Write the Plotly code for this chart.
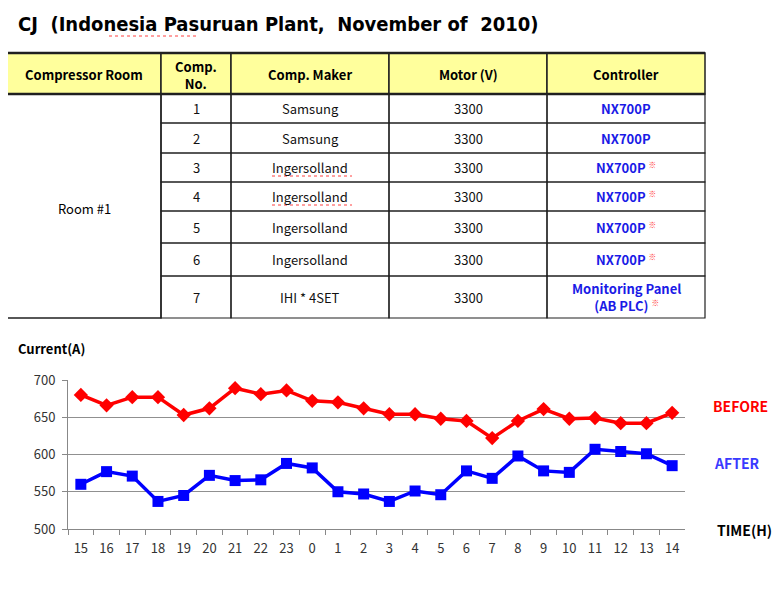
import plotly.graph_objects as go

W, H = 784, 592

# chart data
hours = ["15", "16", "17", "18", "19", "20", "21", "22", "23", "0", "1", "2",
         "3", "4", "5", "6", "7", "8", "9", "10", "11", "12", "13", "14"]
before = [680, 666, 677, 677, 653, 662, 689, 681, 686, 672, 670, 662,
          654, 654, 648, 645, 622, 645, 661, 648, 649, 642, 642, 656]
after = [560, 577, 571, 537, 545, 572, 565, 566, 588, 582, 550, 547,
         537, 551, 546, 578, 568, 598, 578, 576, 607, 604, 601, 585]
y_ticks = [500, 550, 600, 650, 700]

# table data
table_header = ["Compressor Room", "Comp.<br>No.", "Comp. Maker", "Motor (V)", "Controller"]
room_name = "Room #1"
comp_no = ["1", "2", "3", "4", "5", "6", "7"]
comp_maker = ["Samsung", "Samsung", "Ingersolland", "Ingersolland",
              "Ingersolland", "Ingersolland", "IHI * 4SET"]
motor_v = ["3300", "3300", "3300", "3300", "3300", "3300", "3300"]
controller = ["NX700P", "NX700P", "NX700P", "NX700P", "NX700P", "NX700P",
              "Monitoring Panel<br>(AB PLC)"]
controller_note = [False, False, True, True, True, True, True]

title_text = "CJ  (Indonesia Pasuruan Plant,  November of  2010)"

# layout in pixels (page coordinates)
col_edges = [7, 161, 231, 389, 547, 705]
row_edges = [53, 94, 123, 153, 182, 211, 243, 276, 318]
plot_l, plot_r, plot_t, plot_b = 68, 685, 380, 529
OFF = 8  # page body margin

FONT = "Noto Sans CJK KR, Malgun Gothic, Noto Sans, sans-serif"


def px(x):
    return (x - OFF) / W


def py(y):
    return 1 - (y - OFF) / H


def label(x, y, text, size=13, color="#000000", family=FONT, xanchor="center"):
    return dict(xref="paper", yref="paper", x=px(x), y=py(y), text=text,
                showarrow=False, xanchor=xanchor, yanchor="middle",
                font=dict(family=family, size=size, color=color))


def squiggle(x0, x1, y):
    # spell-check style red underline
    return dict(type="line", xref="paper", yref="paper",
                x0=px(x0), x1=px(x1), y0=py(y), y1=py(y),
                line=dict(color="#ff4040", width=1, dash="dot"))


fig = go.Figure()

fig.add_trace(go.Scatter(
    x=hours, y=before, mode="lines+markers", name="BEFORE",
    line=dict(color="#ff0000", width=3.5),
    marker=dict(symbol="diamond", size=11, color="#ff0000"),
))
fig.add_trace(go.Scatter(
    x=hours, y=after, mode="lines+markers", name="AFTER",
    line=dict(color="#0000ff", width=3.5),
    marker=dict(symbol="square", size=11, color="#0000ff"),
))

shapes = []
annotations = []

# header cells
for i in range(5):
    shapes.append(dict(type="rect", xref="paper", yref="paper",
                       x0=px(col_edges[i]), x1=px(col_edges[i + 1]),
                       y0=py(row_edges[1]), y1=py(row_edges[0]),
                       fillcolor="#ffff9c", line=dict(color="#202020", width=1.5),
                       layer="below"))
    annotations.append(label((col_edges[i] + col_edges[i + 1]) / 2,
                             (row_edges[0] + row_edges[1]) / 2 + 1,
                             "<b>" + table_header[i] + "</b>"))

# merged room cell
shapes.append(dict(type="rect", xref="paper", yref="paper",
                   x0=px(col_edges[0]), x1=px(col_edges[1]),
                   y0=py(row_edges[-1]), y1=py(row_edges[1]),
                   line=dict(color="#202020", width=1.5)))
annotations.append(label((col_edges[0] + col_edges[1]) / 2,
                         (row_edges[1] + row_edges[-1]) / 2 + 2, room_name))

# body cells
for r in range(len(comp_no)):
    y0, y1 = row_edges[r + 1], row_edges[r + 2]
    note = " <span style='color:#ff3b3b;font-size:11px'><sup>※</sup></span>" if controller_note[r] else ""
    row_vals = [comp_no[r], comp_maker[r], motor_v[r],
                "<b>" + controller[r] + "</b>" + note]
    for c in range(4):
        shapes.append(dict(type="rect", xref="paper", yref="paper",
                           x0=px(col_edges[c + 1]), x1=px(col_edges[c + 2]),
                           y0=py(y1), y1=py(y0),
                           line=dict(color="#202020", width=1.2)))
        annotations.append(label((col_edges[c + 1] + col_edges[c + 2]) / 2,
                                 (y0 + y1) / 2, row_vals[c],
                                 color="#1a1ae6" if c == 3 else "#111111"))

# thick header rules
for y in (row_edges[0], row_edges[1]):
    shapes.append(dict(type="line", xref="paper", yref="paper",
                       x0=px(col_edges[0]), x1=px(col_edges[-1]),
                       y0=py(y), y1=py(y),
                       line=dict(color="#202020", width=2.5)))

# spell-check underlines
shapes.append(squiggle(109, 197, 36))
shapes.append(squiggle(272, 352, 176))
shapes.append(squiggle(272, 352, 205))

# title and chart labels
annotations.append(label(16, 24, "<b>" + title_text + "</b>", size=20,
                         family="Liberation Sans Narrow, DejaVu Sans Condensed, sans-serif",
                         xanchor="left"))
annotations.append(label(16, 348, "<b>Current(A)</b>", xanchor="left"))
annotations.append(label(740, 406, "<b>BEFORE</b>", size=14, color="#ff0000"))
annotations.append(label(737, 463, "<b>AFTER</b>", size=14, color="#3a3aff"))
annotations.append(label(744, 530, "<b>TIME(H)</b>", size=14))

fig.update_layout(
    width=W, height=H,
    margin=dict(l=0, r=0, t=0, b=0),
    paper_bgcolor="white", plot_bgcolor="white",
    showlegend=False,
    shapes=shapes, annotations=annotations,
    font=dict(family=FONT, size=13, color="#333333"),
    xaxis=dict(domain=[px(plot_l), px(plot_r)], type="category",
               tickson="boundaries", ticks="outside", ticklen=5,
               tickcolor="#888888", showline=True, linecolor="#888888",
               linewidth=1, showgrid=False, tickfont=dict(size=13),
               ticklabelstandoff=7,
               range=[-0.5, len(hours) - 0.5], automargin=False),
    yaxis=dict(domain=[py(plot_b), py(plot_t)], range=[500, 700],
               tickvals=y_ticks, ticks="outside", ticklen=5,
               tickcolor="#888888", showline=True, linecolor="#888888",
               linewidth=1, showgrid=True, gridcolor="#909090",
               gridwidth=1, zeroline=False, tickfont=dict(size=13),
               ticklabelstandoff=4, automargin=False),
)

fig.write_html("out.html")
